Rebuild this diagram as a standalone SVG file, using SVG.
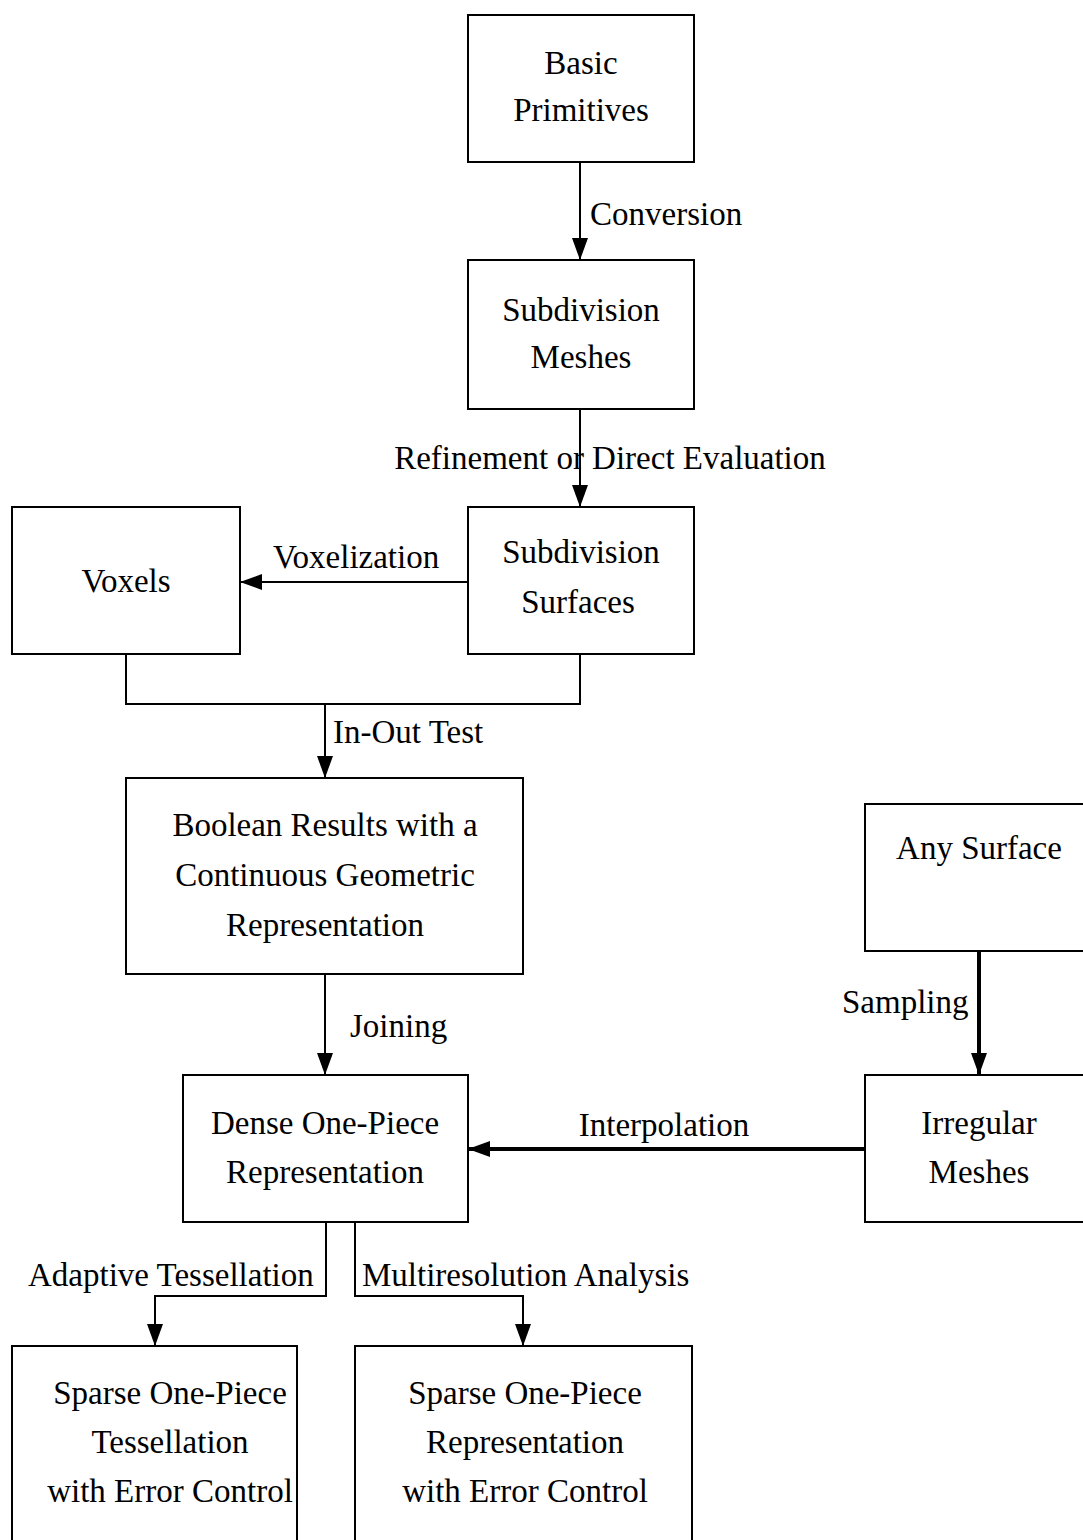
<svg xmlns="http://www.w3.org/2000/svg" width="1083" height="1540" viewBox="0 0 1083 1540">
<style>
.box{fill:#fff;stroke:#000;stroke-width:2}
.t{font-family:"Liberation Serif","Times New Roman",serif;font-size:33px;fill:#000;text-anchor:middle}
.l{font-family:"Liberation Serif","Times New Roman",serif;font-size:33px;fill:#000}
.c{fill:none;stroke:#000;stroke-width:2}
.ck{fill:none;stroke:#000;stroke-width:4}
</style>
<defs>
<marker id="ah" markerUnits="userSpaceOnUse" markerWidth="22" markerHeight="22" viewBox="0 0 22 22" refX="22" refY="11" orient="auto">
<path d="M0,3 L22,11 L0,19 Z" fill="#000"/>
</marker>
</defs>
<rect width="1083" height="1540" fill="#fff"/>
<g id="connectors">
<line class="c" x1="580" y1="162" x2="580" y2="260" marker-end="url(#ah)"/>
<line class="c" x1="580" y1="409" x2="580" y2="507" marker-end="url(#ah)"/>
<line class="c" x1="468" y1="582" x2="240" y2="582" marker-end="url(#ah)"/>
<polyline class="c" points="126,654 126,704 580,704 580,654"/>
<line class="c" x1="325" y1="704" x2="325" y2="778" marker-end="url(#ah)"/>
<line class="c" x1="325" y1="974" x2="325" y2="1075" marker-end="url(#ah)"/>
<line class="ck" x1="979" y1="951" x2="979" y2="1075" marker-end="url(#ah)"/>
<line class="ck" x1="865" y1="1149" x2="468" y2="1149" marker-end="url(#ah)"/>
<polyline class="c" points="326,1222 326,1296 155,1296 155,1346" marker-end="url(#ah)"/>
<polyline class="c" points="355,1222 355,1296 523,1296 523,1346" marker-end="url(#ah)"/>
<text class="l" x="590" y="225">Conversion</text>
<text class="t" x="610" y="469">Refinement or Direct Evaluation</text>
<text class="l" x="273" y="568">Voxelization</text>
<text class="l" x="333" y="743">In-Out Test</text>
<text class="l" x="350" y="1037">Joining</text>
<text class="l" x="842" y="1013">Sampling</text>
<text class="t" x="664" y="1136">Interpolation</text>
<text class="l" x="28" y="1286">Adaptive Tessellation</text>
<text class="l" x="362" y="1286">Multiresolution Analysis</text>
</g>
<g id="basic-primitives">
<rect class="box" x="468" y="15" width="226" height="147"/>
<text class="t" x="581" y="74">Basic</text>
<text class="t" x="581" y="121">Primitives</text>
</g>
<g id="subdivision-meshes">
<rect class="box" x="468" y="260" width="226" height="149"/>
<text class="t" x="581" y="321">Subdivision</text>
<text class="t" x="581" y="368">Meshes</text>
</g>
<g id="subdivision-surfaces">
<rect class="box" x="468" y="507" width="226" height="147"/>
<text class="t" x="581" y="563">Subdivision</text>
<text class="t" x="578" y="613">Surfaces</text>
</g>
<g id="voxels">
<rect class="box" x="12" y="507" width="228" height="147"/>
<text class="t" x="126" y="592">Voxels</text>
</g>
<g id="boolean-results">
<rect class="box" x="126" y="778" width="397" height="196"/>
<text class="t" x="325" y="836">Boolean Results with a</text>
<text class="t" x="325" y="886">Continuous Geometric</text>
<text class="t" x="325" y="936">Representation</text>
</g>
<g id="any-surface">
<rect class="box" x="865" y="804" width="230" height="147"/>
<text class="t" x="979" y="859">Any Surface</text>
</g>
<g id="irregular-meshes">
<rect class="box" x="865" y="1075" width="230" height="147"/>
<text class="t" x="979" y="1134">Irregular</text>
<text class="t" x="979" y="1183">Meshes</text>
</g>
<g id="dense-one-piece">
<rect class="box" x="183" y="1075" width="285" height="147"/>
<text class="t" x="325" y="1134">Dense One-Piece</text>
<text class="t" x="325" y="1183">Representation</text>
</g>
<g id="sparse-tessellation">
<rect class="box" x="12" y="1346" width="285" height="210"/>
<text class="t" x="170" y="1404">Sparse One-Piece</text>
<text class="t" x="170" y="1453">Tessellation</text>
<text class="t" x="170" y="1502">with Error Control</text>
</g>
<g id="sparse-representation">
<rect class="box" x="355" y="1346" width="337" height="210"/>
<text class="t" x="525" y="1404">Sparse One-Piece</text>
<text class="t" x="525" y="1453">Representation</text>
<text class="t" x="525" y="1502">with Error Control</text>
</g>
</svg>
